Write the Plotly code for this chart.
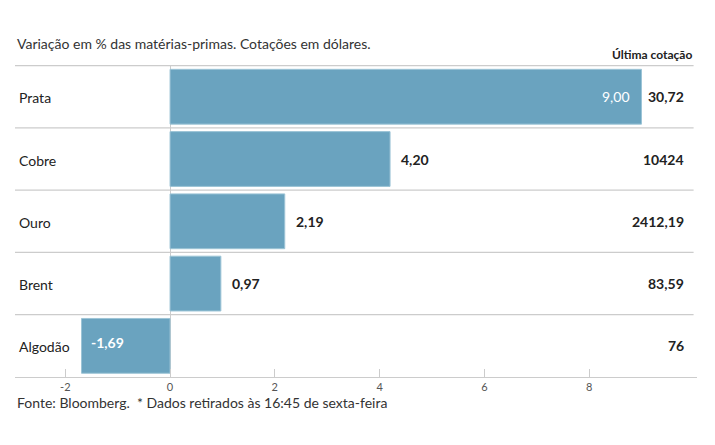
import plotly.graph_objects as go

categories = ["Prata", "Cobre", "Ouro", "Brent", "Algodão"]
variation = [9.00, 4.20, 2.19, 0.97, -1.69]
last_quote = ["30,72", "10424", "2412,19", "83,59", "76"]
inside_label = [True, False, False, False, True]
tick_vals = [-2, 0, 2, 4, 6, 8]
tick_text = ["-2", "0", "2", "4", "6", "8"]

FONT = "Lato"
BAR = "#6aa3bf"
TXT = "#222222"
GRID = "#cccccc"

fig = go.Figure()
fig.add_trace(go.Bar(
    y=categories, x=variation, orientation="h",
    marker=dict(color=BAR, line=dict(color="#9cc4d6", width=1)),
    width=0.88, hoverinfo="skip",
))

ann = []
for c, v, q, ins in zip(categories, variation, last_quote, inside_label):
    s = f"{v:.2f}".replace(".", ",")
    # category label
    ann.append(dict(x=0, xref="paper", y=c, yref="y", text=c, showarrow=False,
                    xanchor="left", xshift=2, yshift=-1,
                    font=dict(family=FONT, size=14, color=TXT)))
    # value label
    if ins:
        if v >= 0:
            ann.append(dict(x=v, y=c, text=s, showarrow=False, xanchor="right", xshift=-9,
                            font=dict(family=FONT, size=14, color="white")))
        else:
            ann.append(dict(x=v, y=c, text="<b>" + s + "</b>", showarrow=False, xanchor="left",
                            xshift=7, yshift=3,
                            font=dict(family=FONT, size=14, color="white")))
    else:
        ann.append(dict(x=v, y=c, text="<b>" + s + "</b>", showarrow=False, xanchor="left", xshift=9,
                        font=dict(family=FONT, size=14, color=TXT)))
    # last quote
    ann.append(dict(x=1, xref="paper", y=c, yref="y", text="<b>" + q + "</b>", showarrow=False,
                    xanchor="right", xshift=-11,
                    font=dict(family=FONT, size=14, color=TXT)))

ann.append(dict(x=0, xref="paper", y=1, yref="paper", yanchor="bottom", yshift=11,
                xanchor="left", text="Variação em % das matérias-primas. Cotações em dólares.",
                showarrow=False, font=dict(family=FONT, size=14, color="#333333")))
ann.append(dict(x=1, xref="paper", y=1, yref="paper", yanchor="bottom", yshift=1,
                xanchor="right", xshift=-3, text="<b>Última cotação</b>",
                showarrow=False, font=dict(family=FONT, size=12, color=TXT)))
ann.append(dict(x=0, xref="paper", y=0, yref="paper", yanchor="middle", yshift=-25,
                xanchor="left", text="Fonte: Bloomberg.  * Dados retirados às 16:45 de sexta-feira",
                showarrow=False, font=dict(family=FONT, size=14, color="#333333")))

shapes = []
for i in range(len(categories)):
    shapes.append(dict(type="line", xref="paper", x0=0, x1=0.995, yref="y",
                       y0=i - 0.5, y1=i - 0.5, line=dict(color=GRID, width=1.2)))

fig.update_layout(
    width=715, height=445,
    margin=dict(l=15, r=18, t=65, b=68),
    paper_bgcolor="white", plot_bgcolor="white",
    showlegend=False,
    annotations=ann, shapes=shapes,
    xaxis=dict(range=[-2.96, 10.06], tickvals=tick_vals, ticktext=tick_text,
               showgrid=False, zeroline=True, zerolinecolor=GRID, zerolinewidth=1,
               showline=True, linecolor=GRID, linewidth=1.2,
               ticks="inside", ticklen=8, tickcolor=GRID, tickwidth=1,
               tickfont=dict(family=FONT, size=11, color="#555555"), fixedrange=True),
    yaxis=dict(autorange="reversed", showticklabels=False, showgrid=False,
               zeroline=False, showline=False, fixedrange=True),
    bargap=0.12,
)

fig.write_html("out.html")
